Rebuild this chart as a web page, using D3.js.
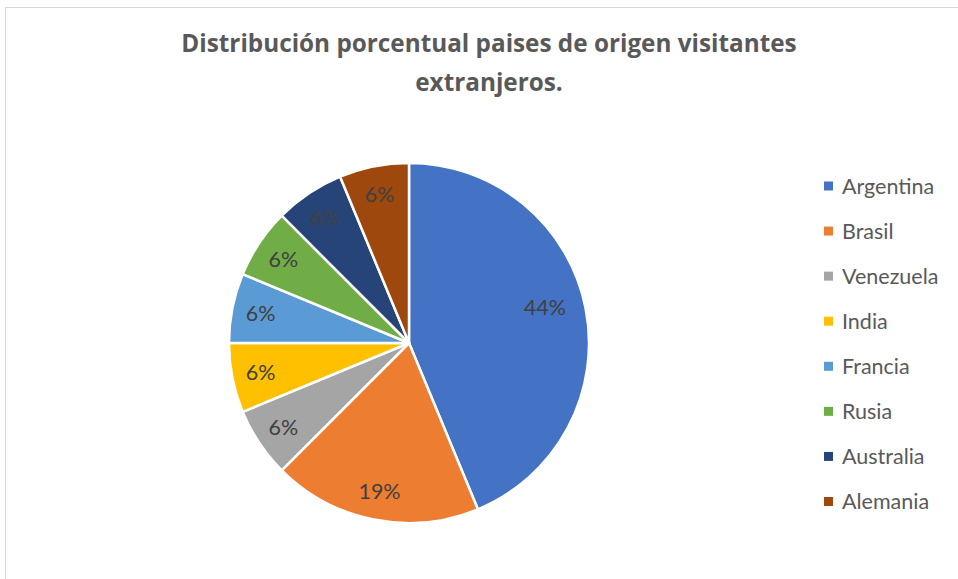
<!DOCTYPE html>
<html><head><meta charset="utf-8">
<script src="https://cdn.jsdelivr.net/npm/d3@7"></script>
<style>
html,body{margin:0;padding:0;background:#fff;}
svg{display:block;}
</style></head>
<body>
<svg id="chart" width="958" height="579"></svg>
<script>
const categories = ["Argentina","Brasil","Venezuela","India","Francia","Rusia","Australia","Alemania"];
const values = [7, 3, 1, 1, 1, 1, 1, 1];
const colors = ["#4472C4","#ED7D31","#A5A5A5","#FFC000","#5B9BD5","#70AD47","#264478","#9E480E"];
const titleLines = ["Distribución porcentual paises de origen visitantes","extranjeros."];

const svg = d3.select("#chart");
const W = 958, H = 579;
const font = "Lato, 'Open Sans', sans-serif";
const titleFont = "'Open Sans', Lato, sans-serif";

// border
svg.append("rect").attr("x",5.5).attr("y",7.5).attr("width",W).attr("height",H)
  .attr("fill","#fff").attr("stroke","#d9d9d9").attr("stroke-width",1);

// title
svg.append("g").selectAll("text").data(titleLines).join("text")
  .attr("x",489).attr("y",(d,i)=>52+i*39)
  .attr("text-anchor","middle")
  .attr("font-family",titleFont).attr("font-weight","bold").attr("font-size",24.3)
  .attr("fill","#595959")
  .text(d=>d);

const cx = 409, cy = 343, R = 180;
const data = categories.map((c,i)=>({name:c,value:values[i],color:colors[i]}));
const total = d3.sum(values);
const pie = d3.pie().value(d=>d.value).sort(null);
const arcs = pie(data);
const arc = d3.arc().innerRadius(0).outerRadius(R);
const fmt = d3.format(".0%");

const g = svg.append("g").attr("transform",`translate(${cx},${cy})`);
g.selectAll("path").data(arcs).join("path")
  .attr("d",arc).attr("fill",d=>d.data.color)
  .attr("stroke","#fff").attr("stroke-width",2.5).attr("stroke-linejoin","round");

g.selectAll("text.lbl").data(arcs).join("text").attr("class","lbl")
  .attr("transform",d=>{
    const frac = d.data.value/total;
    const big = frac > 0.3;
    const r = big ? 0.78*R : 0.84*R;
    const a = (d.startAngle+d.endAngle)/2 - (big?0.06:0);
    return `translate(${r*Math.sin(a)},${-r*Math.cos(a)})`;
  })
  .attr("text-anchor","middle").attr("dy","0.35em")
  .attr("font-family",font).attr("font-size",21.5).attr("fill","#404040")
  .text(d=>fmt(d.data.value/total));

// legend
const leg = svg.append("g").attr("transform","translate(824,186)");
const items = leg.selectAll("g").data(data).join("g")
  .attr("transform",(d,i)=>`translate(0,${i*45.07})`);
items.append("rect").attr("x",0).attr("y",-4.5).attr("width",9).attr("height",9).attr("fill",d=>d.color);
items.append("text").attr("x",18).attr("y",0).attr("dy","0.35em")
  .attr("font-family",font).attr("font-size",21.5).attr("fill","#595959")
  .text(d=>d.name);
</script>
</body></html>
